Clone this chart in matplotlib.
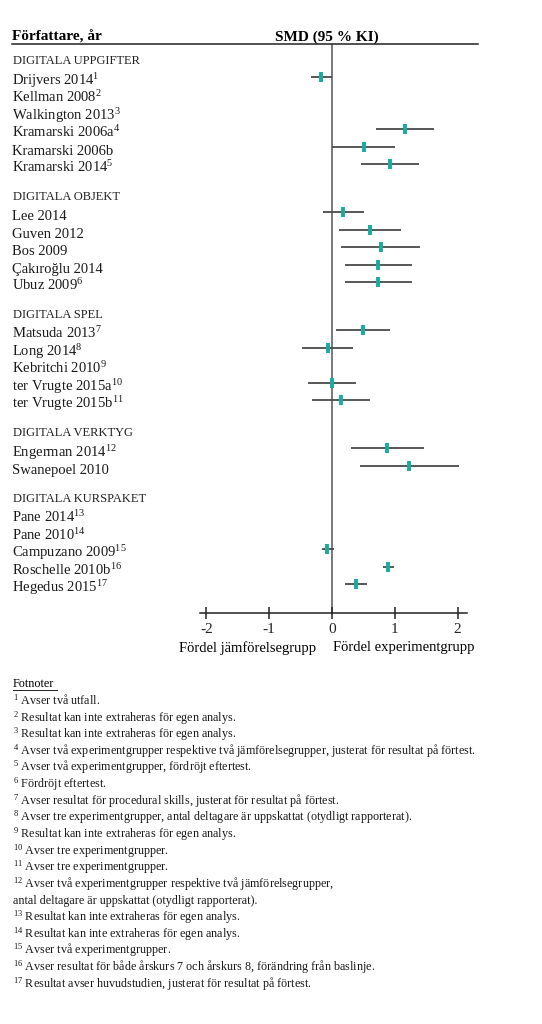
import numpy as np
import matplotlib
matplotlib.use("Agg")
import matplotlib.pyplot as plt
from matplotlib.transforms import blended_transform_factory

plt.rcParams['font.family'] = ['Liberation Serif', 'DejaVu Serif']
plt.rcParams['mathtext.fontset'] = 'custom'
plt.rcParams['mathtext.rm'] = 'Liberation Serif'
plt.rcParams['mathtext.it'] = 'Liberation Serif:italic'
plt.rcParams['mathtext.bf'] = 'Liberation Serif:bold'

# ---------------- data ----------------
groups = ["DIGITALA UPPGIFTER", "DIGITALA OBJEKT", "DIGITALA SPEL",
          "DIGITALA VERKTYG", "DIGITALA KURSPAKET"]

studies_uppgifter = ["Drijvers 2014", "Kellman 2008", "Walkington 2013",
                     "Kramarski 2006a", "Kramarski 2006b", "Kramarski 2014"]
notes_uppgifter = ["1", "2", "3", "4", "", "5"]
smd_uppgifter = [-0.17, np.nan, np.nan, 1.17, 0.51, 0.93]
lo_uppgifter = [-0.33, np.nan, np.nan, 0.70, 0.00, 0.46]
hi_uppgifter = [0.00, np.nan, np.nan, 1.63, 1.01, 1.39]

studies_objekt = ["Lee 2014", "Guven 2012", "Bos 2009", "Çakıroğlu 2014", "Ubuz 2009"]
notes_objekt = ["", "", "", "", "6"]
smd_objekt = [0.18, 0.60, 0.78, 0.74, 0.74]
lo_objekt = [-0.15, 0.11, 0.15, 0.21, 0.21]
hi_objekt = [0.51, 1.10, 1.40, 1.27, 1.27]

studies_spel = ["Matsuda 2013", "Long 2014", "Kebritchi 2010",
                "ter Vrugte 2015a", "ter Vrugte 2015b"]
notes_spel = ["7", "8", "9", "10", "11"]
smd_spel = [0.50, -0.07, np.nan, 0.00, 0.15]
lo_spel = [0.06, -0.48, np.nan, -0.38, -0.31]
hi_spel = [0.93, 0.34, np.nan, 0.38, 0.61]

studies_verktyg = ["Engerman 2014", "Swanepoel 2010"]
notes_verktyg = ["12", ""]
smd_verktyg = [0.88, 1.23]
lo_verktyg = [0.31, 0.45]
hi_verktyg = [1.46, 2.02]

studies_kurs = ["Pane 2014", "Pane 2010", "Campuzano 2009",
                "Roschelle 2010b", "Hegedus 2015"]
notes_kurs = ["13", "14", "15", "16", "17"]
smd_kurs = [np.nan, np.nan, -0.08, 0.90, 0.38]
lo_kurs = [np.nan, np.nan, -0.16, 0.81, 0.21]
hi_kurs = [np.nan, np.nan, 0.03, 0.99, 0.56]

xticks = [-2, -1, 0, 1, 2]
xticklabels = ["-2", "-1", "0", "1", "2"]

footnotes = [
    ("1", "Avser två utfall."),
    ("2", "Resultat kan inte extraheras för egen analys."),
    ("3", "Resultat kan inte extraheras för egen analys."),
    ("4", "Avser två experimentgrupper respektive två jämförelsegrupper, justerat för resultat på förtest."),
    ("5", "Avser två experimentgrupper, fördröjt eftertest."),
    ("6", "Fördröjt eftertest."),
    ("7", "Avser resultat för procedural skills, justerat för resultat på förtest."),
    ("8", "Avser tre experimentgrupper, antal deltagare är uppskattat (otydligt rapporterat)."),
    ("9", "Resultat kan inte extraheras för egen analys."),
    ("10", "Avser tre experimentgrupper."),
    ("11", "Avser tre experimentgrupper."),
    ("12", "Avser två experimentgrupper respektive två jämförelsegrupper,"),
    ("", "antal deltagare är uppskattat (otydligt rapporterat)."),
    ("13", "Resultat kan inte extraheras för egen analys."),
    ("14", "Resultat kan inte extraheras för egen analys."),
    ("15", "Avser två experimentgrupper."),
    ("16", "Avser resultat för både årskurs 7 och årskurs 8, förändring från baslinje."),
    ("17", "Resultat avser huvudstudien, justerat för resultat på förtest."),
]

all_groups = [
    (studies_uppgifter, notes_uppgifter, smd_uppgifter, lo_uppgifter, hi_uppgifter),
    (studies_objekt, notes_objekt, smd_objekt, lo_objekt, hi_objekt),
    (studies_spel, notes_spel, smd_spel, lo_spel, hi_spel),
    (studies_verktyg, notes_verktyg, smd_verktyg, lo_verktyg, hi_verktyg),
    (studies_kurs, notes_kurs, smd_kurs, lo_kurs, hi_kurs),
]

# ---------------- figure ----------------
W, H = 542, 1024
DPI = 100
fig = plt.figure(figsize=(W / DPI, H / DPI), dpi=DPI)

def fx(px):
    return px / W

def fy(py):
    return 1 - py / H

# axes box in pixels
ax_left, ax_right, ax_top, ax_bot = 200, 467, 44, 613
ax = fig.add_axes([fx(ax_left), fy(ax_bot), fx(ax_right - ax_left), (ax_bot - ax_top) / H])

row0_px, step_px, gap = 59, 17.5, 1.75
ax.set_xlim(-2.1, 2.15)
ax.set_ylim((ax_bot - row0_px) / step_px, (ax_top - row0_px) / step_px)

trans = blended_transform_factory(fig.transFigure, ax.transData)

teal = '#16ad9e'
ci_col = '#4a4a4a'

r = 0.0
for gname, (names, notes, smd, lo, hi) in zip(groups, all_groups):
    fig.text(fx(13), r + 0.3, gname, transform=trans, fontsize=9, va='baseline',
             ha='left', color='#222222')
    ys = []
    for i, (n, nt) in enumerate(zip(names, notes)):
        y = r + 1 + i
        ys.append(y)
        lab = n + (r"$^{%s}$" % nt if nt else "")
        fig.text(fx(12), y + 0.47, lab, transform=trans, fontsize=10.5,
                 va='baseline', ha='left', color='#1a1a1a')
    ys = np.array(ys)
    ax.hlines(ys, lo, hi, color=ci_col, lw=1.3, zorder=2)
    ax.plot(smd, ys, linestyle='none', marker='|', markersize=6.5,
            markeredgewidth=2.8, color=teal, zorder=3)
    r = ys[-1] + gap

ax.axvline(0, color='#555555', lw=1.1, zorder=1)

for s in ['top', 'right', 'left']:
    ax.spines[s].set_visible(False)
ax.spines['bottom'].set_linewidth(1.1)
ax.spines['bottom'].set_color('#222222')
ax.set_yticks([])
ax.set_xticks(xticks)
ax.set_xticklabels(xticklabels, fontsize=11)
ax.tick_params(axis='x', direction='inout', length=9, width=1.1, pad=3,
               colors='#222222')

# header
fig.text(fx(12), fy(37), "Författare, år", fontsize=11, fontweight='bold',
         va='center', ha='left')
fig.text(fx(327), fy(37), "SMD (95 % KI)", fontsize=11, fontweight='bold',
         va='center', ha='center')
fig.add_artist(plt.Line2D([fx(12), fx(478)], [fy(44), fy(44)], color='#222222', lw=1.1))

# favour labels
fig.text(fx(316), fy(648), "Fördel jämförelsegrupp", fontsize=10.5, va='center', ha='right')
fig.text(fx(333), fy(648), "Fördel experimentgrupp", fontsize=10.5, va='center', ha='left')

# footnotes
fig.text(fx(13), fy(687), "Fotnoter", fontsize=8.7, va='baseline', ha='left')
fig.add_artist(plt.Line2D([fx(13), fx(57)], [fy(689.5), fy(689.5)], color='#222222', lw=0.7))
for k, (num, txt) in enumerate(footnotes):
    lab = (r"$^{%s}$ " % num + txt) if num else txt
    fig.text(fx(13), fy(704.5 + k * 16.65), lab, fontsize=8.7, va='baseline', ha='left',
             color='#1a1a1a')

fig.savefig("out.png", dpi=DPI)
